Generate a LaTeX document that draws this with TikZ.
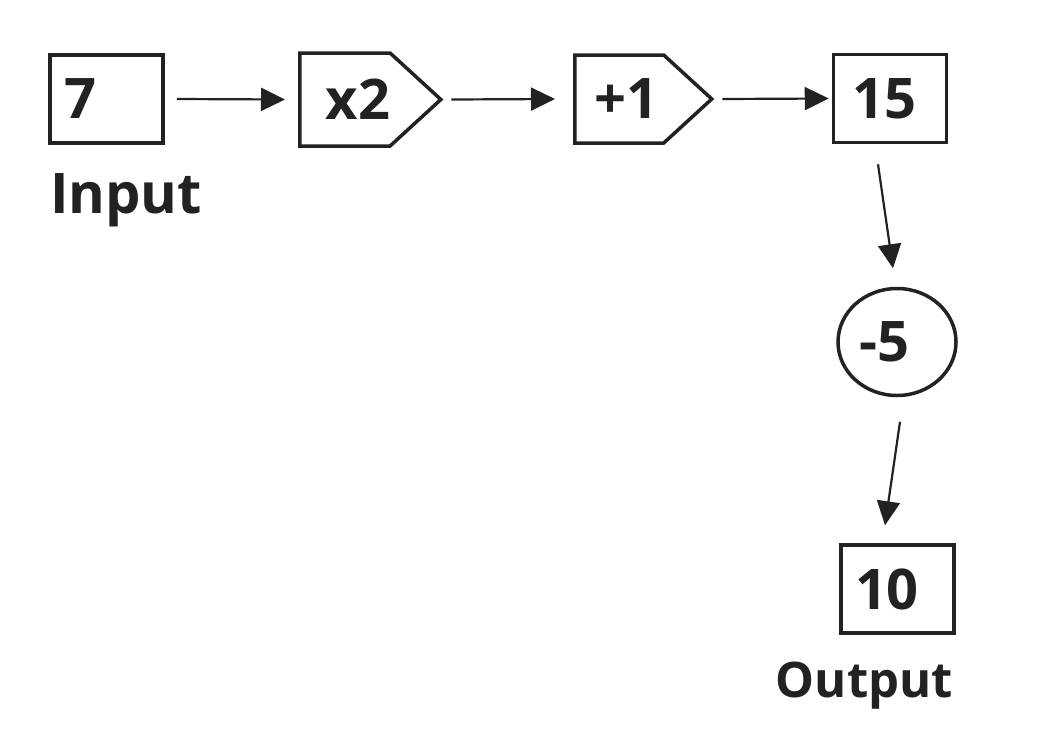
\documentclass[tikz,border=0pt]{standalone}
\usepackage{fontspec}
\setmainfont{Open Sans}
\usetikzlibrary{arrows.meta}
\usetikzlibrary{shapes.geometric}
\usetikzlibrary{shapes.symbols}
\definecolor{encre}{HTML}{222222}
\newcommand{\chiffre}{\fontsize{56}{60}\selectfont\bfseries}

\begin{document}
\begin{tikzpicture}[x=1pt,y=-1pt]
	\tikzstyle{boite}=[draw=encre,text=encre,line width=3.5pt,minimum height=88pt,text width=85pt,inner xsep=14pt,align=left,font=\chiffre]
	\tikzstyle{signe}=[draw=encre,text=encre,line width=3.5pt,shape=signal,signal to=east,signal pointer angle=85,minimum width=137pt,inner xsep=0pt,anchor=west,font=\chiffre]
	\tikzstyle{rond}=[draw=encre,text=encre,line width=3.5pt,ellipse,minimum width=118pt,minimum height=107pt,inner sep=0pt,font=\chiffre]
	\tikzstyle{fleche}=[draw=encre,line width=2.2pt,-{Triangle[length=24pt,width=23pt]}]
	\useasboundingbox[fill=white] (0,0) rectangle (1056,734);
	\node[boite] (sept) at (106.5,99) {7};
	\node[signe,minimum height=93pt] (fois) at (298,99.5) {\hspace*{26pt}x2};
	\node[signe,minimum height=88pt] (plus) at (573,99) {\hspace*{14pt}+1};
	\node[boite] (quinze) at (890,98.5) {\hspace*{5pt}15};
	\node[rond] (moins) at (897,342) {-5\hspace*{26pt}};
	\node[boite] (dix) at (897.5,589) {10};
	\node[text=encre,inner sep=0pt,anchor=base west,font=\fontsize{56}{60}\selectfont\bfseries] (entree) at (50,213) {Input};
	\node[text=encre,inner sep=0pt,anchor=base east,font=\fontsize{49}{52}\selectfont\bfseries] (sortie) at (953,697) {Output};
	\draw[fleche] ([xshift=12pt]sept.east) -- ([xshift=-13pt]fois.west);
	\draw[fleche] ([xshift=8pt]fois.east) -- ([xshift=-18pt]plus.west);
	\draw[fleche] ([xshift=8pt]plus.east) -- ([xshift=-3pt]quinze.west);
	\draw[fleche] ([xshift=-12pt,yshift=-20pt]quinze.south) -- ([xshift=-4pt,yshift=18.5pt]moins.north);
	\draw[fleche] ([xshift=3pt,yshift=-24.5pt]moins.south) -- ([xshift=-12.5pt,yshift=18pt]dix.north);
\end{tikzpicture}
\end{document}
